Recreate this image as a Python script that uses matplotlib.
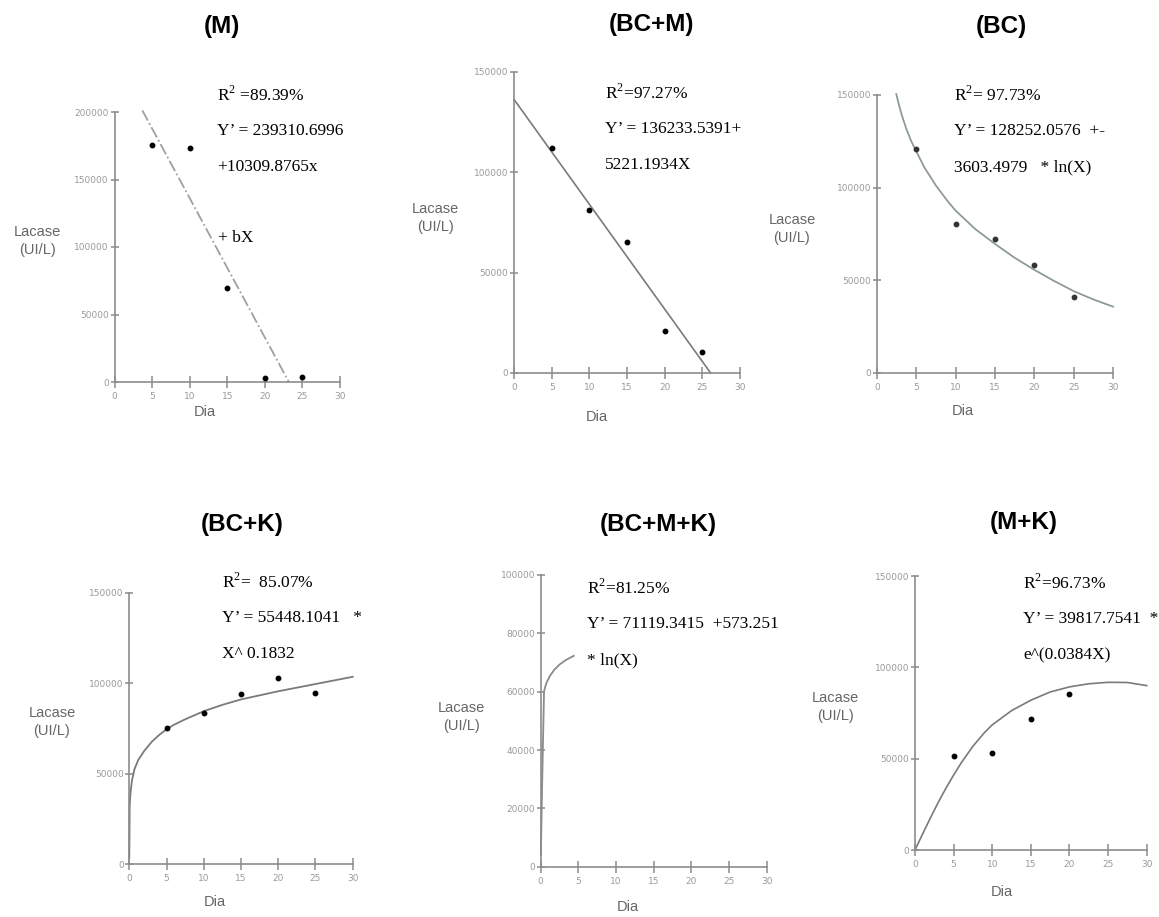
import matplotlib.pyplot as plt

plt.rcParams['mathtext.fontset'] = 'custom'
plt.rcParams['mathtext.rm'] = 'Liberation Serif'

W, H = 1159, 917

titles = ["(M)", "(BC+M)", "(BC)", "(BC+K)", "(BC+M+K)", "(M+K)"]
dias = [5, 10, 15, 20, 25]

# observed laccase activity (UI/L)
m_obs = [175500, 173500, 69500, 3000, 4000]
bcm_obs = [111900, 81100, 65100, 21100, 10300]
bc_obs = [120600, 80300, 72000, 57900, 41000]
bck_obs = [75000, 83300, 93900, 103100, 94300]
mk_dias = [5, 10, 15, 20]
mk_obs = [51500, 53300, 71600, 85400]

# fitted curves
m_fit_x = [3.7, 23.2]
m_fit_y = [201200, 0]
bcm_fit_x = [0, 26.1]
bcm_fit_y = [136200, 0]
bc_fit_x = [2.45, 2.8, 3.2, 3.7, 4.3, 5, 6, 7.5, 9, 10, 12.5, 15, 17.5, 20,
            22.5, 25, 27.5, 30]
bc_fit_y = [150500, 144500, 138500, 132000, 125500, 119500, 111000, 101000,
            92500, 87500, 77500, 69500, 62000, 55500, 49500, 44000, 39500,
            35600]
bck_fit_x = [0, 0.05, 0.15, 0.35, 0.7, 1.2, 2, 3, 4, 5, 6, 7.5, 10, 12.5, 15,
             20, 25, 30]
bck_fit_y = [3500, 32000, 39000, 46000, 52500, 57500, 62500, 67500, 71300,
             74500, 77000, 80000, 84500, 88000, 91000, 95500, 99500, 103500]
bcmk_fit_x = [0.02, 0.13, 0.28, 0.38, 0.44, 0.6, 0.8, 1.2, 1.8, 2.5, 3.3, 4.4]
bcmk_fit_y = [4000, 20000, 40000, 52000, 60000, 61700, 63200, 65300, 67500,
              69300, 70800, 72300]
mk_fit_x = [0, 1, 2, 3, 4, 5, 6, 7.5, 9, 10, 12.5, 15, 17.5, 20, 22.5, 25,
            27.5, 30]
mk_fit_y = [0, 8900, 17600, 26000, 33800, 41000, 47800, 56800, 64300, 68500,
            76300, 82000, 86500, 89300, 91000, 91800, 91700, 90000]

y_max = [200000, 150000, 150000, 150000, 100000, 150000]
y_step = [50000, 50000, 50000, 50000, 20000, 50000]

notes = [
    ["R$^\\mathregular{2}$ =89.39%", "Y’ = 239310.6996", "+10309.8765x"],
    ["R$^\\mathregular{2}$=97.27%", "Y’ = 136233.5391+", "5221.1934X"],
    ["R$^\\mathregular{2}$= 97.73%", "Y’ = 128252.0576  +-", "3603.4979   * ln(X)"],
    ["R$^\\mathregular{2}$=  85.07%", "Y’ = 55448.1041   *", "X^ 0.1832"],
    ["R$^\\mathregular{2}$=81.25%", "Y’ = 71119.3415  +573.251", "* ln(X)"],
    ["R$^\\mathregular{2}$=96.73%", "Y’ = 39817.7541  *", "e^(0.0384X)"],
]

# layout in pixels: axes box (left, right, top, bottom)
boxes = [(114.5, 340, 112, 382), (514, 740, 71.7, 373), (877, 1113, 95, 372.5),
         (129.3, 352.7, 592.7, 864), (540.7, 766.7, 575, 866.7),
         (915, 1146.7, 576, 850)]
title_pos = [(222, 26), (652, 24), (1001, 26), (242, 525), (658, 525), (1024, 523)]
ylab_pos = [(37, 241), (435, 218), (792, 229), (52, 722), (461, 717), (835, 707)]
dia_pos = [(205, 412), (597, 417), (963, 411), (215, 902), (628, 907), (1002, 892)]
note_pos = [(217, 95), (605, 93), (954, 95), (222, 582), (587, 588), (1023, 583)]


def fx(px):
    return px / W


def fy(py):
    return 1 - py / H


fig = plt.figure(figsize=(W / 100, H / 100), dpi=100)
axes = []
for i, (l, r, t, b) in enumerate(boxes):
    ax = fig.add_axes([fx(l), fy(b), (r - l) / W, (b - t) / H])
    ax.set_xlim(0, 30)
    ax.set_ylim(0, y_max[i])
    ax.set_xticks(range(0, 31, 5))
    ax.set_yticks(range(0, y_max[i] + 1, y_step[i]))
    for s in ['top', 'right']:
        ax.spines[s].set_visible(False)
    for s in ['left', 'bottom']:
        ax.spines[s].set_color('#8c8c8c')
        ax.spines[s].set_linewidth(1.2)
    ax.tick_params(axis='x', direction='inout', length=9, width=1.1,
                   color='#8c8c8c', labelsize=6.5, labelcolor='#9a9a9a', pad=3)
    ax.tick_params(axis='y', direction='inout', length=6, width=1.1,
                   color='#8c8c8c', labelsize=6.5, labelcolor='#9a9a9a', pad=1)
    axes.append(ax)

    fig.text(fx(title_pos[i][0]), fy(title_pos[i][1]), titles[i], ha='center',
             va='center', fontsize=17.5, fontweight='bold',
             family='Liberation Sans')
    fig.text(fx(ylab_pos[i][0]), fy(ylab_pos[i][1]), "Lacase\n(UI/L)",
             ha='center', va='center', fontsize=10.5, color='#666666',
             family='Liberation Sans', linespacing=1.35)
    fig.text(fx(dia_pos[i][0]), fy(dia_pos[i][1]), "Dia", ha='center',
             va='center', fontsize=10.5, color='#666666',
             family='Liberation Sans')
    nx, ny = note_pos[i]
    for k, line in enumerate(notes[i]):
        fig.text(fx(nx), fy(ny + k * 36), line, ha='left', va='center',
                 fontsize=12.5, family='Liberation Serif')

fig.text(fx(218), fy(238), "+ bX", ha='left', va='center', fontsize=12.5,
         family='Liberation Serif')

dot = dict(marker='o', ls='none', color='black', markersize=3.2,
           clip_on=False, zorder=3)

ax = axes[0]
ax.plot(m_fit_x, m_fit_y, ls='-.', color='#a0a0a0', lw=1.3, clip_on=False)
ax.plot(dias, m_obs, **dot)

ax = axes[1]
ax.plot(bcm_fit_x, bcm_fit_y, color='#7a7a7a', lw=1.2, clip_on=False)
ax.plot(dias, bcm_obs, **dot)

ax = axes[2]
ax.plot(bc_fit_x, bc_fit_y, color='#8c9c94', lw=1.3, clip_on=False)
ax.plot(dias, bc_obs, color='#333333', marker='o', ls='none', markersize=3.2,
        clip_on=False, zorder=3)

ax = axes[3]
ax.plot(bck_fit_x, bck_fit_y, color='#7a7a7a', lw=1.3, clip_on=False)
ax.plot(dias, bck_obs, **dot)

ax = axes[4]
ax.plot(bcmk_fit_x, bcmk_fit_y, color='#8a8a8a', lw=1.3, clip_on=False)

ax = axes[5]
ax.plot(mk_fit_x, mk_fit_y, color='#7a7a7a', lw=1.2, clip_on=False)
ax.plot(mk_dias, mk_obs, **dot)

fig.savefig('out.png', dpi=100, facecolor='white')
